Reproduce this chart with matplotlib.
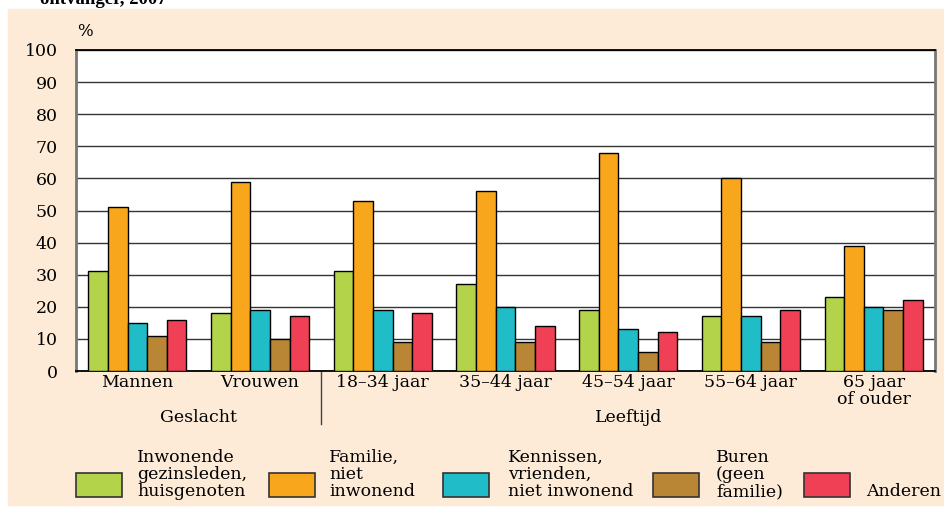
import numpy as np
import matplotlib.pyplot as plt
from matplotlib.patches import Rectangle

# data
groups = ['Mannen', 'Vrouwen', '18–34 jaar', '35–44 jaar', '45–54 jaar',
          '55–64 jaar', '65 jaar\nof ouder']
inwonend = [31, 18, 31, 27, 19, 17, 23]
familie = [51, 59, 53, 56, 68, 60, 39]
kennissen = [15, 19, 19, 20, 13, 17, 20]
buren = [11, 10, 9, 9, 6, 9, 19]
anderen = [16, 17, 18, 14, 12, 19, 22]
series_labels = ['Inwonende\ngezinsleden,\nhuisgenoten', 'Familie,\nniet\ninwonend',
                 'Kennissen,\nvrienden,\nniet inwonend', 'Buren\n(geen\nfamilie)', 'Anderen']
colors = ['#b2d34a', '#f8a61c', '#20bcc8', '#b88634', '#ef4055']
yticks = list(range(0, 101, 10))

W, H = 945, 507
FS = 12.5
plt.rcParams['font.family'] = ['DejaVu Serif']
plt.rcParams['font.size'] = FS
fig = plt.figure(figsize=(W / 100, H / 100), dpi=100)

# beige panel
fig.add_artist(Rectangle((8 / W, 2 / H), 1 - 8 / W, 1 - 11 / H,
                         transform=fig.transFigure, color='#fdebd8', zorder=-10))
fig.text(40 / W, 1 - 4 / H, 'ontvanger, 2007', fontweight='bold', fontsize=13.5,
         family='Liberation Serif', va='baseline', ha='left')

ax = fig.add_axes([76 / W, 1 - 371 / H, (935 - 76) / W, (371 - 50) / H])
ax.set_facecolor('white')

x = np.arange(len(groups))
bw = 0.16
for i, vals in enumerate([inwonend, familie, kennissen, buren, anderen]):
    ax.bar(x + (i - 2) * bw, vals, bw, color=colors[i], edgecolor='black',
           linewidth=1, zorder=3)

ax.set_xlim(-0.5, len(groups) - 0.5)
ax.set_ylim(0, 100)
ax.set_yticks(yticks)
ax.yaxis.grid(True, color='#333333', linewidth=1, zorder=0)
ax.tick_params(axis='y', length=0, pad=13, labelsize=FS)
ax.set_xticks(x)
ax.set_xticklabels(groups, linespacing=1.05)
ax.tick_params(axis='x', length=0, pad=2, labelsize=FS)
for s in ['left', 'right']:
    ax.spines[s].set_color('#777777')
    ax.spines[s].set_linewidth(2)
for s in ['top', 'bottom']:
    ax.spines[s].set_color('black')
    ax.spines[s].set_linewidth(1.3)

ax.text(77 / W, 1 - 32 / H, '%', transform=fig.transFigure, fontsize=12, va='center')

# group divider and group labels
ax.plot([1.5, 1.5], [0, -16.5], color='#444444', lw=1, clip_on=False)
ax.text(0.5, -14.5, 'Geslacht', ha='center', va='center')
ax.text(4, -14.5, 'Leeftijd', ha='center', va='center')

# legend
box_x = [76, 269, 443, 653, 804]
text_x = [137, 329, 508, 716, 866]
for i in range(5):
    fig.add_artist(Rectangle((box_x[i] / W, 1 - 497 / H), 46 / W, 24 / H,
                             transform=fig.transFigure, facecolor=colors[i],
                             edgecolor='#333333', lw=1.2))
    fig.text(text_x[i] / W, 1 - 500 / H, series_labels[i], ha='left', va='bottom',
             fontsize=FS, linespacing=1.0)

fig.savefig('out.png', dpi=100)
